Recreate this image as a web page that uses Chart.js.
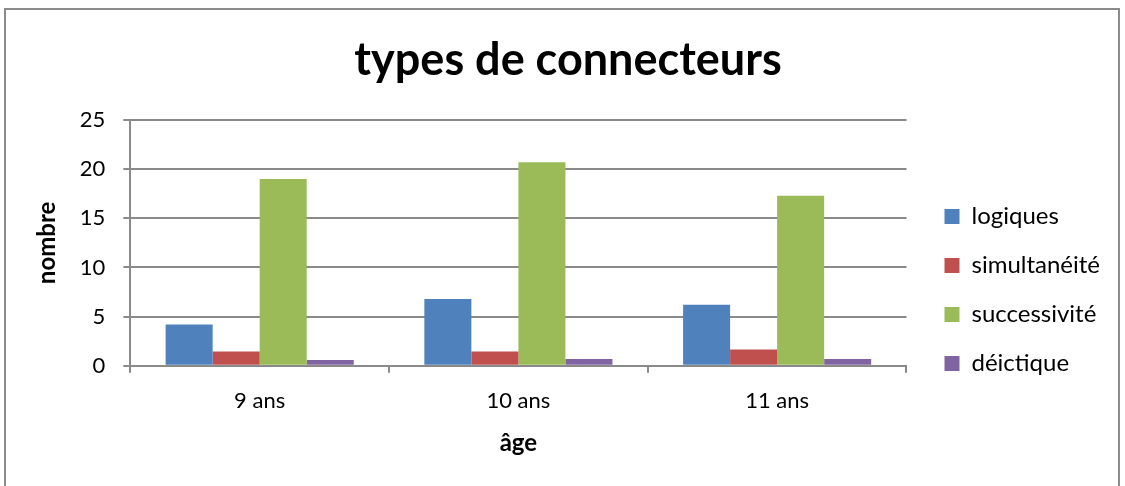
<!DOCTYPE html>
<html>
<head>
<meta charset="utf-8">
<script src="https://cdn.jsdelivr.net/npm/chart.js@4"></script>
<style>
  body { margin: 0; background: #fff; }
  #frame { position: absolute; left: 4px; top: 8px; width: 1116px; height: 480px; border: 2px solid #8c8c8c; box-sizing: border-box; }
  #wrap { position: absolute; left: 0; top: 0; width: 1125px; height: 486px; }
</style>
</head>
<body>
<div id="frame"></div>
<div id="wrap"><canvas id="connChart" width="1125" height="486"></canvas></div>
<script>
const ages = ['9 ans', '10 ans', '11 ans'];
const logiques = [4.2, 6.8, 6.2];
const simultaneite = [1.45, 1.45, 1.65];
const successivite = [19, 20.7, 17.3];
const deictique = [0.6, 0.7, 0.7];

const font = 'Lato';
const gray = '#8a8a8a';

function ds(label, data, color) {
    return {
        label: label,
        data: data,
        backgroundColor: color,
        borderWidth: 0,
        categoryPercentage: 0.727,
        barPercentage: 1.0
    };
}

// nudge the legend (and title a bit) to sit where Excel put them
const legendShift = {
    id: 'legendShift',
    afterLayout(chart) {
        const l = chart.legend;
        l.left += 13; l.right += 13;
        l.top += 50; l.bottom += 50;
        const t = chart.titleBlock;
        t.left += 5; t.right += 5;
    }
};

const ctx = document.getElementById('connChart').getContext('2d');
new Chart(ctx, {
    type: 'bar',
    data: {
        labels: ages,
        datasets: [
            ds('logiques', logiques, '#4F81BD'),
            ds('simultanéité', simultaneite, '#C0504D'),
            ds('successivité', successivite, '#9BBB59'),
            ds('déictique', deictique, '#8064A2')
        ]
    },
    plugins: [legendShift],
    options: {
        responsive: false,
        animation: false,
        devicePixelRatio: 1,
        events: [],
        layout: { padding: { left: 29, right: 28, top: 20, bottom: 26 } },
        plugins: {
            title: {
                display: true,
                text: 'types de connecteurs',
                color: '#000',
                font: { family: font, size: 45, weight: 'bold' },
                padding: { top: 13, bottom: 33 }
            },
            legend: {
                position: 'right',
                align: 'center',
                labels: {
                    color: '#000',
                    font: { family: font, size: 24 },
                    boxWidth: 15,
                    boxHeight: 15,
                    padding: 25
                }
            },
            tooltip: { enabled: false }
        },
        scales: {
            x: {
                grid: { display: true, drawOnChartArea: false, color: gray, tickLength: 7, lineWidth: 2 },
                border: { color: gray, width: 2 },
                ticks: { color: '#000', font: { family: font, size: 22 }, padding: 15 },
                title: { display: true, text: 'âge', color: '#000', font: { family: font, size: 24, weight: 'bold' }, padding: { top: 0, bottom: 2 } }
            },
            y: {
                min: 0,
                max: 25,
                ticks: { stepSize: 5, color: '#000', font: { family: font, size: 22 }, padding: 18 },
                grid: { color: gray, lineWidth: 2, tickLength: 7 },
                border: { color: gray, width: 2 },
                title: { display: true, text: 'nombre', color: '#000', font: { family: font, size: 24, weight: 'bold' }, padding: { top: 4, bottom: 0 } }
            }
        }
    }
});
</script>
</body>
</html>
